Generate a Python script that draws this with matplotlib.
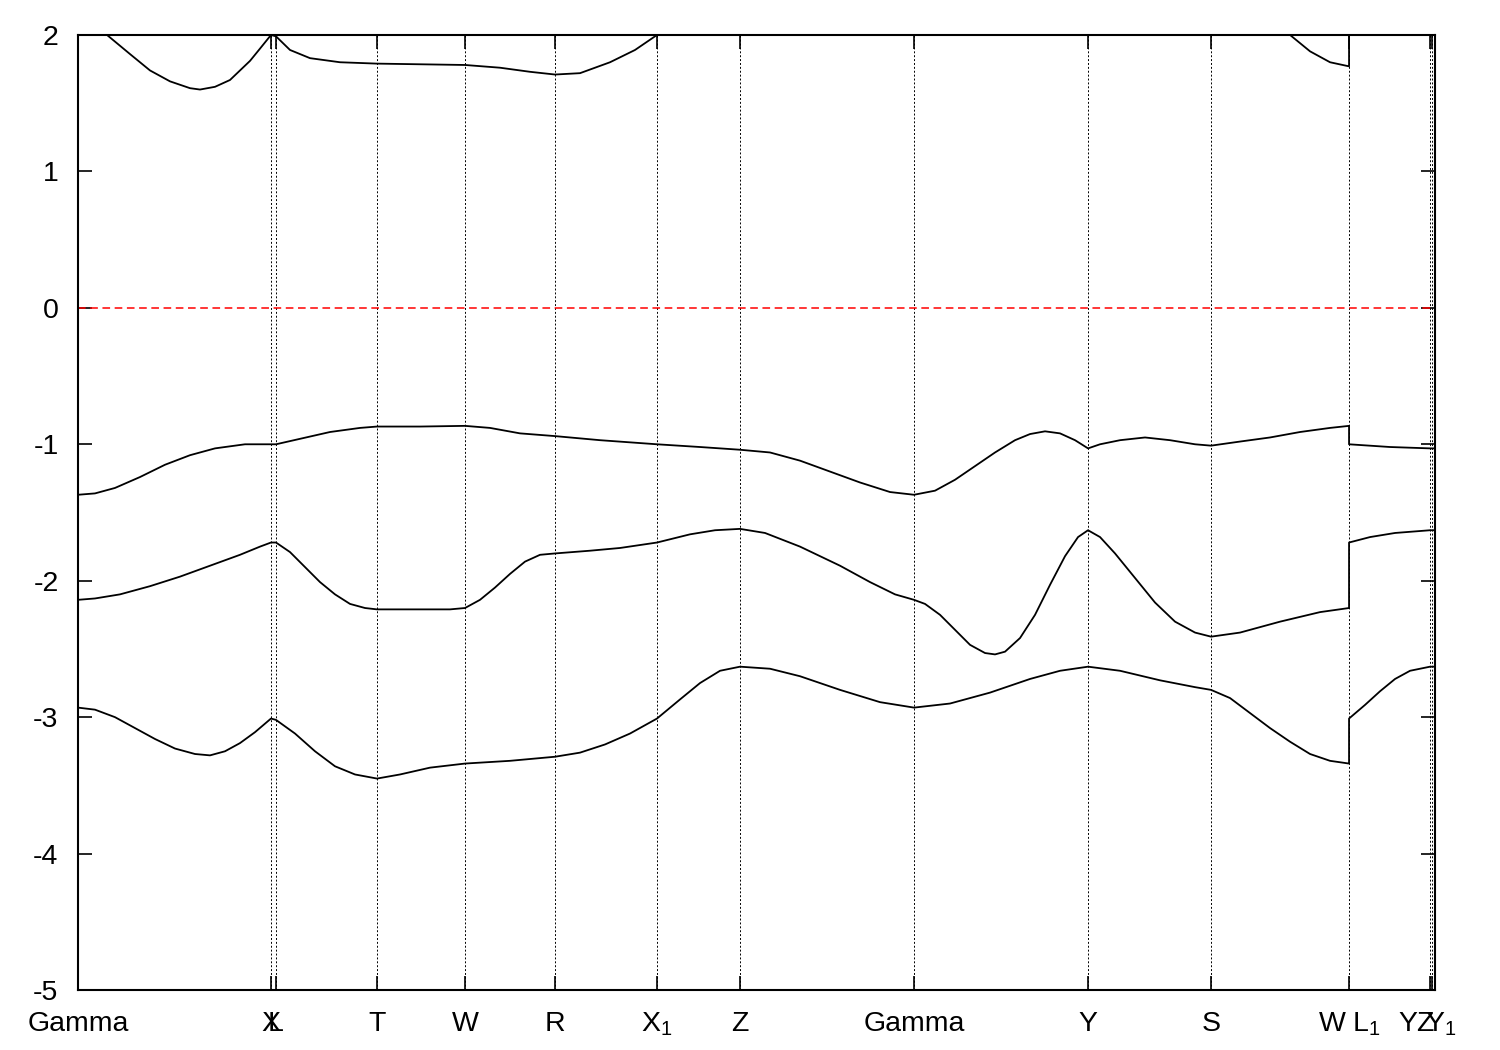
import numpy as np
import matplotlib
matplotlib.use("Agg")
import matplotlib.pyplot as plt
import matplotlib.transforms as mtrans

plt.rcParams['font.family'] = ['Liberation Sans', 'DejaVu Sans']
plt.rcParams['mathtext.fontset'] = 'custom'
plt.rcParams['mathtext.rm'] = 'Liberation Sans'
plt.rcParams['mathtext.it'] = 'Liberation Sans'
plt.rcParams['mathtext.default'] = 'regular'
plt.rcParams['axes.unicode_minus'] = False

# high symmetry points (k-path distance)
kpts = [0, 193, 198, 299, 387, 477, 579, 662, 836, 1010, 1133, 1271, 1352, 1354, 1357]
klabels = ['Gamma', 'X', 'L', 'T', 'W', 'R', 'X$_1$', 'Z', 'Gamma', 'Y', 'S',
           'W L$_1$', 'Y', 'Z', 'Y$_1$']

# bands (k, energy); nan = gap
band1_k = [0, 17, 37, 57, 77, 97, 117, 132, 147, 162, 177, 193,
           198, 217, 237, 257, 277, 299, 322, 352, 387, 432, 477, 502, 527, 552, 579,
           602, 622, 642, 662, 692, 722, 762, 802, 836, 872, 912, 952, 982, 1010,
           1042, 1082, 1117, 1133, 1152, 1172, 1192, 1212, 1232, 1252, 1271,
           1271, 1287, 1302, 1317, 1332, 1352, 1357]
band1_e = [-2.93, -2.945, -3.00, -3.08, -3.16, -3.23, -3.27, -3.28, -3.25, -3.19, -3.11, -3.01,
           -3.02, -3.12, -3.25, -3.36, -3.42, -3.45, -3.42, -3.37, -3.34, -3.32, -3.29, -3.26,
           -3.20, -3.12, -3.01, -2.87, -2.75, -2.66, -2.63, -2.645, -2.70, -2.80, -2.89, -2.93,
           -2.90, -2.82, -2.72, -2.66, -2.63, -2.66, -2.73, -2.78, -2.80, -2.86, -2.97, -3.08,
           -3.18, -3.27, -3.32, -3.34, -3.01, -2.91, -2.81, -2.72, -2.66, -2.63, -2.63]

band2_k = [0, 17, 42, 72, 102, 132, 162, 182, 193,
           198, 212, 227, 242, 257, 272, 287, 299, 342, 372, 387, 402, 417, 432, 447, 462,
           477, 512, 542, 579, 612, 637, 662, 687, 722, 762, 792, 817, 836, 847, 862, 877,
           892, 907, 917, 927, 942, 957, 972, 987, 1000, 1010, 1022, 1037, 1057, 1077, 1097,
           1117, 1133, 1162, 1202, 1242, 1271,
           1271, 1292, 1317, 1352, 1357]
band2_e = [-2.14, -2.13, -2.10, -2.04, -1.97, -1.89, -1.81, -1.75, -1.72,
           -1.72, -1.79, -1.90, -2.01, -2.10, -2.17, -2.20, -2.21, -2.21, -2.21, -2.20, -2.14,
           -2.05, -1.95, -1.86, -1.81, -1.80, -1.78, -1.76, -1.72, -1.66, -1.63, -1.62, -1.65,
           -1.75, -1.89, -2.01, -2.10, -2.14, -2.17, -2.25, -2.36, -2.47, -2.53, -2.54, -2.52,
           -2.42, -2.25, -2.03, -1.82, -1.68, -1.63, -1.68, -1.80, -1.98, -2.16, -2.30, -2.38,
           -2.41, -2.38, -2.30, -2.23, -2.20,
           -1.72, -1.68, -1.65, -1.63, -1.63]

band3_k = [0, 17, 37, 62, 87, 112, 137, 167, 193,
           198, 222, 252, 282, 299, 342, 387, 412, 442, 477, 522, 579, 622, 662, 692, 722,
           752, 782, 812, 836, 857, 877, 897, 917, 937, 952, 967, 982, 997, 1010, 1022, 1042,
           1067, 1092, 1117, 1133, 1162, 1192, 1222, 1252, 1271,
           1271, 1312, 1352, 1357]
band3_e = [-1.37, -1.36, -1.32, -1.24, -1.15, -1.08, -1.03, -1.00, -1.00,
           -1.00, -0.96, -0.91, -0.88, -0.87, -0.87, -0.865, -0.88, -0.92, -0.94, -0.97, -1.00,
           -1.02, -1.04, -1.06, -1.12, -1.20, -1.28, -1.35, -1.37, -1.34, -1.26, -1.16, -1.06,
           -0.97, -0.925, -0.905, -0.92, -0.97, -1.03, -1.00, -0.97, -0.95, -0.97, -1.00, -1.01,
           -0.98, -0.95, -0.91, -0.88, -0.865,
           -1.00, -1.02, -1.03, -1.03]

band4_k = [0, 29, 52, 72, 92, 112, 122, 137, 152, 162, 172, 182, 193,
           198, 212, 232, 262, 299, 387, 422, 452, 477, 502, 532, 557, 579,
           np.nan, 1212, 1232, 1252, 1271, 1271]
band4_e = [2.08, 2.00, 1.86, 1.74, 1.66, 1.61, 1.60, 1.62, 1.67, 1.74, 1.81, 1.90, 2.00,
           1.99, 1.89, 1.83, 1.80, 1.79, 1.78, 1.76, 1.73, 1.71, 1.72, 1.80, 1.89, 2.00,
           np.nan, 2.00, 1.88, 1.80, 1.77, 2.10]

fig = plt.figure(figsize=(15, 10.5), dpi=100)
ax = fig.add_axes([0.052, 0.0571, 0.9047, 0.9096])

for k, e in [(band1_k, band1_e), (band2_k, band2_e), (band3_k, band3_e), (band4_k, band4_e)]:
    ax.plot(k, e, color='black', lw=1.3)

# high symmetry lines
for k in kpts:
    ax.axvline(k, color='black', lw=0.7, ls=(0, (2, 2)))

# fermi level
ax.axhline(0, color='red', lw=1.1, ls=(0, (5, 3)))

ax.set_xlim(0, 1357)
ax.set_ylim(-5, 2)
ax.set_yticks(range(-5, 3))
ax.set_xticks(kpts)
ax.set_xticklabels(klabels)
ax.tick_params(axis='both', direction='in', length=10, width=1.2, labelsize=20.5,
               top=True, right=True, pad=14)
ax.tick_params(axis='x', pad=15)

# shift the crowded labels at the right end
offs = {12: -13, 13: -7, 14: 6}
labels = ax.get_xticklabels()
for i, dx in offs.items():
    labels[i].set_transform(labels[i].get_transform() +
                            mtrans.ScaledTranslation(dx / 100, 0, fig.dpi_scale_trans))
labels[12].set_ha('right')

for s in ax.spines.values():
    s.set_linewidth(1.5)

plt.savefig('out.png')
